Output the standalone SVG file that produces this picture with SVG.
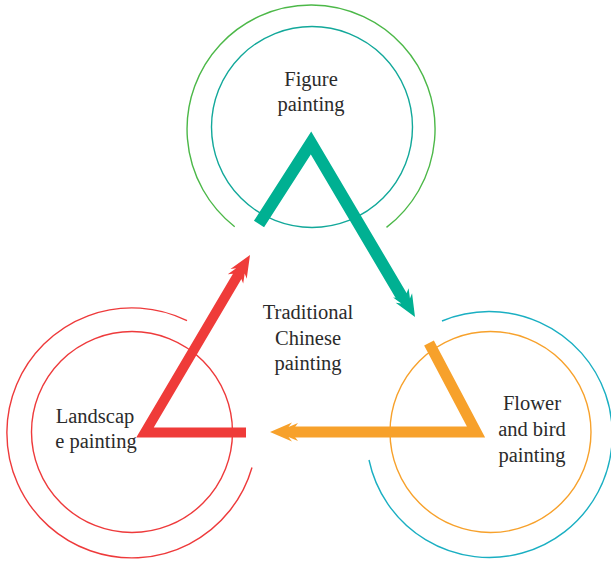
<svg xmlns="http://www.w3.org/2000/svg" width="611" height="563" viewBox="0 0 611 563">
  <defs>
    <style>
      .ring { fill: none; stroke-width: 1.4; }
      text { font-family: 'Liberation Serif', 'Times New Roman', serif; font-size: 20.5px; fill: #2b2b2b; text-anchor: middle; }
      .arm { fill: none; stroke-linejoin: miter; stroke-linecap: butt; stroke-miterlimit: 10; }
    </style>
    <!-- double-barbed arrowhead, tip at origin, pointing along +x -->
    <path id="head" d="M0,0 L-22,-9.5 L-18.5,-5 L-28,-9 L-25,-5 L-25,5 L-28,9 L-18.5,5 L-22,9.5 Z"/>
  </defs>

  <rect width="611" height="563" fill="#ffffff"/>

  <g id="figure-painting">
    <path class="ring" stroke="#4cb848" d="M234.7,226.7 A124,124 0 1 1 386.5,227.4"/>
    <circle class="ring" stroke="#12a89a" cx="312" cy="127" r="100.5"/>
    <text x="311" y="86" font-family="Liberation Serif, serif">Figure</text>
    <text x="311" y="111" font-family="Liberation Serif, serif">painting</text>
  </g>

  <g id="landscape-painting">
    <path class="ring" stroke="#ee3a3b" d="M187,320.7 A125,125 0 1 0 252,467.5"/>
    <circle class="ring" stroke="#ee3a3b" cx="132" cy="432" r="100.5"/>
    <text x="95" y="423" font-family="Liberation Serif, serif">Landscap</text>
    <text x="96" y="448" font-family="Liberation Serif, serif">e painting</text>
  </g>

  <g id="flower-bird-painting">
    <path class="ring" stroke="#1aafc2" d="M442,321 A123,123 0 1 1 369,460"/>
    <circle class="ring" stroke="#f7a12b" cx="490.5" cy="432" r="100.5"/>
    <text x="532" y="410" font-family="Liberation Serif, serif">Flower</text>
    <text x="532" y="436" font-family="Liberation Serif, serif">and bird</text>
    <text x="532" y="462" font-family="Liberation Serif, serif">painting</text>
  </g>

  <g id="centre">
    <text x="308" y="319" font-family="Liberation Serif, serif">Traditional</text>
    <text x="308" y="345" font-family="Liberation Serif, serif">Chinese</text>
    <text x="308" y="370" font-family="Liberation Serif, serif">painting</text>
  </g>

  <g id="connectors">
    <!-- figure -> flower and bird -->
    <path class="arm" stroke="#00b092" stroke-width="12" d="M259,224 L311,143 L402,297"/>
    <use href="#head" fill="#00b092" transform="translate(415,317) rotate(59.6)"/>
    <!-- flower and bird -> landscape -->
    <path class="arm" stroke="#f7a12b" stroke-width="11" d="M429,343 L476,432 L292,432"/>
    <use href="#head" fill="#f7a12b" transform="translate(270,432) rotate(180)"/>
    <!-- landscape -> figure -->
    <path class="arm" stroke="#ef3b39" stroke-width="10" d="M246,432.5 L145,432.5 L238,275"/>
    <use href="#head" fill="#ef3b39" transform="translate(250,255) rotate(-58.8)"/>
  </g>
</svg>
